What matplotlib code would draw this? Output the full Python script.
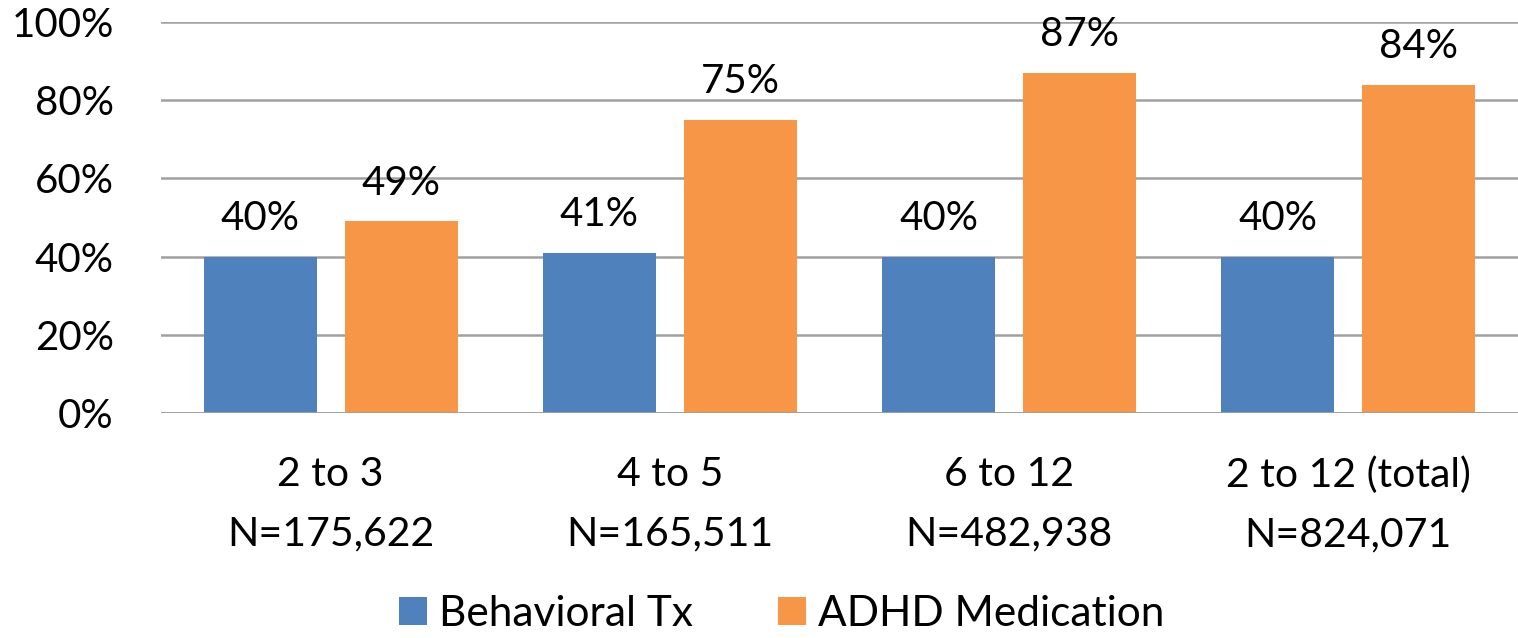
import numpy as np
import matplotlib.pyplot as plt
from matplotlib.ticker import PercentFormatter

# Share of children receiving each kind of treatment, by age group
age_groups = ['2 to 3', '4 to 5', '6 to 12', '2 to 12 (total)']
group_sizes = ['N=175,622', 'N=165,511', 'N=482,938', 'N=824,071']
behavioral_tx = [40, 41, 40, 40]
adhd_medication = [49, 75, 87, 84]

plt.rcParams['font.family'] = ['Lato', 'DejaVu Sans']

fig = plt.figure(figsize=(15.18, 6.38), dpi=100)
ax = fig.add_axes([161 / 1518, 1 - 413 / 638, 1357 / 1518, 391 / 638])

x = np.arange(len(age_groups))
width = 0.333
offset = 0.208

bars1 = ax.bar(x - offset, behavioral_tx, width, color='#4F81BD', label='Behavioral Tx', zorder=3)
bars2 = ax.bar(x + offset, adhd_medication, width, color='#F79646', label='ADHD Medication', zorder=3)

# Value labels above each bar
for bars, values in ((bars1, behavioral_tx), (bars2, adhd_medication)):
    for b, v in zip(bars, values):
        ax.annotate(f'{v}%', (b.get_x() + b.get_width() / 2, v),
                    xytext=(0, 14), textcoords='offset points',
                    ha='center', va='bottom', fontsize=29)

ax.set_xlim(-0.5, len(age_groups) - 0.5)
ax.set_ylim(0, 100)
ax.set_yticks(np.arange(0, 101, 20))
ax.yaxis.set_major_formatter(PercentFormatter(decimals=0))
ax.set_xticks(x)
ax.set_xticklabels([f'{a}\n{n}' for a, n in zip(age_groups, group_sizes)],
                   fontsize=29.5, linespacing=1.75)

ax.grid(axis='y', color='#a0a0a0', linewidth=1.8, zorder=0)
ax.set_axisbelow(True)
for side in ('top', 'right', 'left', 'bottom'):
    ax.spines[side].set_visible(False)
ax.axhline(0, color='#a0a0a0', linewidth=2, zorder=4)
ax.tick_params(axis='y', length=0, pad=34, labelsize=29)
ax.tick_params(axis='x', length=0, pad=31)

ax.legend(loc='center', bbox_to_anchor=(782 / 1518, 1 - 614 / 638),
          bbox_transform=fig.transFigure, ncol=2, frameon=False,
          fontsize=30.5, handlelength=0.65, handleheight=0.65,
          handletextpad=0.3, columnspacing=2.0)

fig.savefig('out.png', dpi=100)
